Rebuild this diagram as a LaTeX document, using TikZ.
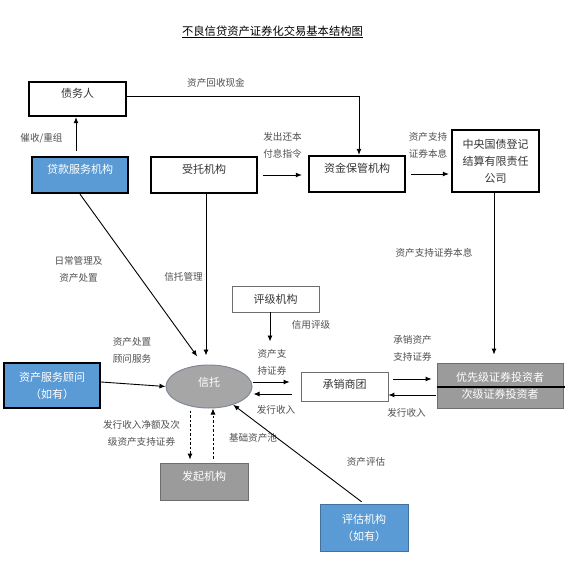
\documentclass[tikz,border=0pt]{standalone}
\usepackage{fontspec}
\setmainfont{Noto Sans CJK SC}
\usetikzlibrary{arrows.meta,shapes.geometric}
\definecolor{bxblue}{HTML}{5B9BD5}
\definecolor{bxblueline}{HTML}{41719C}
\definecolor{elgray}{HTML}{A6A6A6}
\definecolor{elline}{HTML}{7F8A99}
\definecolor{bxgray}{HTML}{9B9B9B}
\definecolor{bxgrayline}{HTML}{6E6E6E}
\definecolor{lbl}{HTML}{505050}
\definecolor{bxtxt}{HTML}{353535}
\tikzset{
  boxfont/.style={font=\fontsize{11}{17}\selectfont},
  lblfont/.style={font=\fontsize{9.6}{17}\selectfont, text=lbl},
  thickbox/.style={draw=black, line width=2.3pt, boxfont, text=bxtxt, inner sep=0pt, align=center},
  raised/.style={text height=8pt, text depth=11pt},
  thinbox/.style={draw=bxgrayline, line width=0.8pt, boxfont, text=bxtxt, inner sep=0pt, align=center},
  lbl/.style={lblfont, inner sep=0pt, align=center},
  arr/.style={line width=0.9pt, -{Latex[length=6pt,width=5pt]}},
  dasharr/.style={line width=0.9pt, dash pattern=on 2.5pt off 2pt, -{Latex[length=6pt,width=5pt]}},
}
\begin{document}
\begin{tikzpicture}[x=1pt,y=-1pt]
\useasboundingbox (0,0) rectangle (577,569);
\fill[white] (0,0) rectangle (577,569);

% title
\node[inner sep=0pt, font=\fontsize{11.3}{14}\selectfont, text=black] (title) at (272.5,32) {\underline{不良信贷资产证券化交易基本结构图}};

% boxes
\node[thickbox, raised, minimum width=97pt, minimum height=34pt] (debtor) at (77.5,99) {债务人};
\node[thickbox, raised, fill=bxblue, text=white, minimum width=96pt, minimum height=36pt] (loansvc) at (80,175) {贷款服务机构};
\node[thickbox, raised, minimum width=106pt, minimum height=36pt] (trustee) at (204,175) {受托机构};
\node[thickbox, raised, minimum width=96pt, minimum height=36pt] (custodian) at (357,174) {资金保管机构};
\node[thickbox, minimum width=87pt, minimum height=62pt] (ccdc) at (495.5,161) {中央国债登记\\结算有限责任\\公司};
\node[thinbox, minimum width=87pt, minimum height=26pt] (rating) at (275.5,299) {评级机构};
\node[thickbox, fill=bxblue, text=white, minimum width=96pt, minimum height=45pt] (advisor) at (52,385.5) {资产服务顾问\\（如有）};
\node[ellipse, draw=elline, line width=1pt, fill=elgray, text=white, boxfont, inner sep=0pt, minimum width=86pt, minimum height=43pt, text height=8pt, text depth=9pt] (trust) at (209,386.5) {信托};
\node[thinbox, minimum width=87pt, minimum height=29pt, text height=8pt, text depth=5pt] (underwriter) at (344.5,386.5) {承销商团};
\node[thinbox, fill=bxgray, text=white, minimum width=126pt, minimum height=45pt] (investors) at (500,385.5) {优先级证券投资者\\次级证券投资者};
\node[thinbox, fill=bxgray, text=white, minimum width=88pt, minimum height=37pt, raised] (originator) at (204,481.5) {发起机构};
\node[thinbox, draw=bxblueline, fill=bxblue, text=white, minimum width=88pt, minimum height=47pt] (appraiser) at (364,527.5) {评估机构\\（如有）};

% separator line in investors box
\draw[line width=1.3pt, black] ([yshift=-1.5pt]investors.west) -- ([xshift=2pt,yshift=-1.5pt]investors.east);

% labels
\node[lbl] (l1) at (216,83) {资产回收现金};
\node[lbl] (l2) at (41.5,138) {催收/重组};
\node[lbl] (l3) at (282.5,145.5) {发出还本\\付息指令};
\node[lbl] (l4) at (428,145.5) {资产支持\\证券本息};
\node[lbl] (l5) at (78.5,269.5) {日常管理及\\资产处置};
\node[lbl] (l6) at (183.5,277) {信托管理};
\node[lbl] (l7) at (311,325) {信用评级};
\node[lbl] (l8) at (434,253) {资产支持证券本息};
\node[lbl] (l9) at (132,350.5) {资产处置\\顾问服务};
\node[lbl] (l10) at (272,362.5) {资产支\\持证券};
\node[lbl] (l11) at (412.5,348.5) {承销资产\\支持证券};
\node[lbl] (l12) at (276,410) {发行收入};
\node[lbl] (l13) at (406.5,413) {发行收入};
\node[lbl] (l14) at (141.5,433.5) {发行收入净额及次\\级资产支持证券};
\node[lbl] (l15) at (253,438) {基础资产池};
\node[lbl] (l16) at (366,462) {资产评估};

% connectors
\draw[arr] ([yshift=3pt]debtor.east) -| ([xshift=2pt]custodian.north);
\draw[arr, shorten <=5pt] ([xshift=-4pt]loansvc.north) -- ([xshift=-4pt]loansvc.north |- debtor.south);
\draw[arr, shorten <=5pt, shorten >=6pt] (trustee.east) -- (trustee.east -| custodian.west);
\draw[arr, shorten <=5pt, shorten >=2pt] (custodian.east) -- (custodian.east -| ccdc.west);
\draw[arr, shorten >=8pt] ([xshift=-1.5pt]ccdc.south) -- ([xshift=-1.5pt]ccdc.south |- investors.north);
\draw[arr, shorten >=10pt] (loansvc.south) -- ([xshift=-6pt]trust.north);
\draw[arr, shorten >=9pt] ([xshift=2pt]trustee.south) -- ([xshift=2pt]trustee.south |- trust.north);
\draw[arr, shorten >=23pt] ([xshift=-5.5pt]rating.south) -- ([xshift=-5.5pt]rating.south |- trust.north);
\draw[arr] ([yshift=3.5pt]advisor.east) -- (trust.west);
\draw[arr, shorten >=11pt] ([yshift=4.5pt]trust.east) -- ([yshift=4.5pt]trust.east -| underwriter.west);
\draw[arr, shorten <=9pt, shorten >=1pt] ([yshift=-7.5pt]underwriter.west) -- ([yshift=-7.5pt]underwriter.west -| trust.east);
\draw[arr, shorten <=5pt, shorten >=5pt] ([yshift=7.5pt]underwriter.east) -- ([yshift=7.5pt]underwriter.east -| investors.west);
\draw[arr, shorten <=1pt] ([yshift=-9.5pt]investors.west) -- ([yshift=-9.5pt]investors.west -| underwriter.east);
\draw[dasharr, shorten <=2pt, shorten >=3pt] ([xshift=-19pt]trust.south) -- ([xshift=-19pt]trust.south |- originator.north);
\draw[dasharr, shorten <=4pt] ([xshift=4pt]trust.south |- originator.north) -- ([xshift=4pt]trust.south);
\draw[arr, shorten <=3pt] (appraiser.north) -- (trust);
\end{tikzpicture}
\end{document}
